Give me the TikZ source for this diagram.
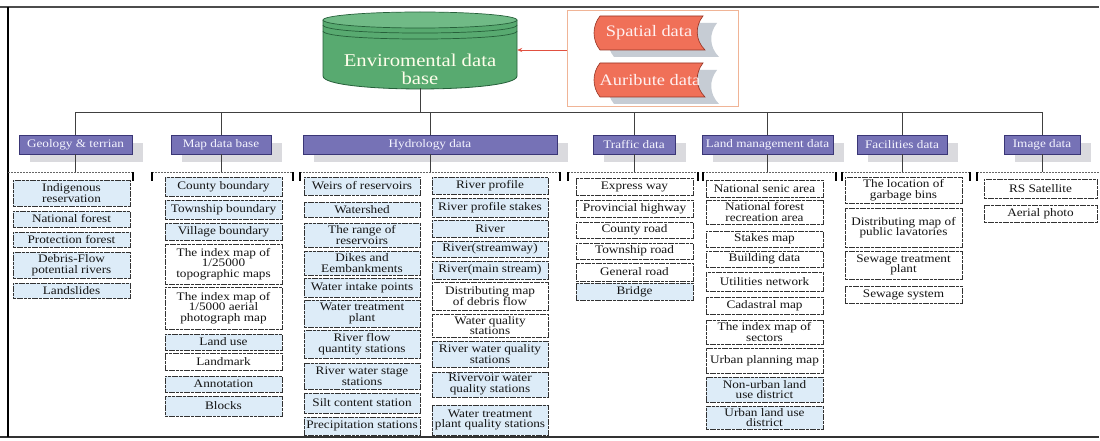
\documentclass[tikz,border=0pt]{standalone}
\usepackage{fontspec}
\setmainfont{Liberation Serif}[FakeStretch=1.15]
\usetikzlibrary{arrows.meta,shadows}

\definecolor{catfill}{RGB}{118,114,182}
\definecolor{catedge}{RGB}{58,54,118}
\definecolor{catshadow}{RGB}{218,218,222}
\definecolor{leafblue}{RGB}{221,236,248}
\definecolor{leafedge}{RGB}{50,50,50}
\definecolor{dbgreen}{RGB}{88,170,112}
\definecolor{dbtop}{RGB}{112,186,134}
\definecolor{dbedge}{RGB}{38,96,58}
\definecolor{tagred}{RGB}{240,112,88}
\definecolor{tagedge}{RGB}{150,52,36}
\definecolor{tagshadow}{RGB}{198,204,212}
\definecolor{panel}{RGB}{240,180,150}
\definecolor{linkred}{RGB}{225,80,64}

\newcommand{\leaffont}{\fontsize{11.5}{10.5}\selectfont}
% leaf box: name, fill, left, right, top, bottom, text
\newcommand{\leafbox}[7]{%
  \node[leaf,fill=#2,minimum width={#4-#3},minimum height={#6-#5}] (#1)
    at ({(#3+#4)/2},{(#5+#6)/2}) {#7};}
% category box: name, centre x, width, text
\newcommand{\catbox}[4]{%
  \node[cat,minimum width=#3] (#1) at (#2,144.5) {#4};
  \coordinate (#1-br) at (#2,172);
  \draw[link] (#1.north) |- (hub);
  \draw[link] (#1.south) -- (#1-br);}
% bracket over a column: left, right
\newcommand{\colbracket}[2]{%
  \draw[bracket] (#1,172) -- (#2,172);
  \draw[endtick] (#1,172) -- (#1,181);
  \draw[endtick] (#2,172) -- (#2,181);}
% banner shape
\newcommand{\tagshape}{%
  \path[fill=tagshadow] (614,23) -- (717,23) .. controls (709,33) and (709,47) .. (719,57)
    -- (614,57) .. controls (606,47) and (606,33) .. (614,23) -- cycle;
  \path[fill=tagred,draw=tagedge,line width=0.6pt] (600,16) -- (703,16)
    .. controls (695,26) and (695,40) .. (705,50) -- (600,50)
    .. controls (592,40) and (592,26) .. (600,16) -- cycle;}

\begin{document}
\begin{tikzpicture}[x=1pt,y=-1pt,
  link/.style={draw=black!75,line width=0.8pt},
  bracket/.style={draw=black!60,line width=0.7pt,dash pattern=on 2pt off 1pt},
  endtick/.style={draw=black,line width=1.5pt},
  leaf/.style={draw=leafedge,line width=0.75pt,dash pattern=on 3pt off 0.7pt,
    inner sep=0.5pt,align=center,font=\leaffont,text=black!92},
  cat/.style={fill=catfill,draw=catedge,line width=0.6pt,text=white!96!blue,font=\leaffont,
    minimum height=19pt,inner sep=0pt,
    general shadow={fill=catshadow,shadow xshift=11pt,shadow yshift=-8pt}},
  tagtext/.style={text=white!94!red,font=\fontsize{16}{16}\selectfont,inner sep=0pt}]
\useasboundingbox (0,0) rectangle (1100,441);
\fill[white] (0,0) rectangle (1100,441);

% frame
\draw[black!70,line width=1.3pt] (0,7) -- (1099,7);
\draw[black!80,line width=2pt] (0,437) -- (1099,437);
\draw[black,line width=2pt] (8,7) -- (8,437);

% data source panel
\node[draw=panel,line width=0.8pt,fill=white,minimum width=171pt,minimum height=96pt,
  inner sep=0pt] (src) at (652.5,58) {};
\tagshape
\node[tagtext] (spatial) at (649,33) {Spatial data};
\begin{scope}[shift={(0,47)}]
\tagshape
\end{scope}
\node[tagtext] (attr) at (650,80) {Auribute data};

% database cylinder
\node[minimum width=194pt,minimum height=76pt,inner sep=0pt] (db) at (420,50) {};
\path[fill=dbgreen] (323,20) rectangle (517,76);
\path[fill=dbgreen,draw=dbedge,line width=0.8pt] (323,20) -- (323,76)
  .. controls (323,93.3) and (517,93.3) .. (517,76) -- (517,20);
\draw[dbedge,line width=0.7pt,fill=dbtop] (420,20) ellipse[x radius=97,y radius=8];
\draw[dbedge,line width=0.7pt] (323,25) .. controls (323,35.7) and (517,35.7) .. (517,25);
\draw[dbedge,line width=0.7pt] (323,31) .. controls (323,41.7) and (517,41.7) .. (517,31);
\node[text=white!92!yellow,align=center,font=\fontsize{18}{18}\selectfont,inner sep=0pt]
  (dbtext) at (420,69) {Enviromental data\\base};

\draw[linkred,line width=0.6pt,-{Stealth[length=5pt,width=4pt]}] (src.west |- db.east) -- (db.east);

% trunk
\coordinate (hub) at (420,112);
\draw[link] (db.south) -- (hub);

% categories
\catbox{geo}{75.5}{113}{Geology \& terrian}
\catbox{map}{221}{100}{Map data base}
\catbox{hyd}{430}{254}{Hydrology data}
\catbox{tra}{634}{82}{Traffic data}
\catbox{lan}{767.5}{131}{Land management data}
\catbox{fac}{902}{90}{Facilities data}
\catbox{img}{1042}{76}{Image data}

% brackets
\draw[bracket] (8,172) -- (133,172);
\draw[endtick] (133,172) -- (133,181);
\colbracket{152}{293}
\colbracket{300}{560}
\colbracket{568}{698}
\colbracket{703}{836}
\colbracket{842}{970}
\draw[bracket] (977,172) -- (1100,172);
\draw[endtick] (977,172) -- (977,181);

% geology & terrain
\leafbox{g1}{leafblue}{13}{130}{180}{206}{Indigenous\\reservation}
\leafbox{g2}{leafblue}{13}{130}{211}{227}{National forest}
\leafbox{g3}{leafblue}{13}{130}{232}{247}{Protection forest}
\leafbox{g4}{leafblue}{13}{130}{252}{278}{Debris-Flow\\potential rivers}
\leafbox{g5}{leafblue}{13}{130}{283}{298}{Landslides}

% map data base
\leafbox{m1}{leafblue}{165}{282}{177}{196}{County boundary}
\leafbox{m2}{leafblue}{165}{282}{200}{219}{Township boundary}
\leafbox{m3}{leafblue}{165}{282}{223}{240}{Village boundary}
\leafbox{m4}{white}{165}{282}{244}{284}{The index map of\\1/25000\\topographic maps}
\leafbox{m5}{white}{165}{282}{287}{329}{The index map of\\1/5000 aerial\\photograph map}
\leafbox{m6}{leafblue}{165}{282}{334}{350}{Land use}
\leafbox{m7}{white}{165}{282}{353}{370}{Landmark}
\leafbox{m8}{leafblue}{165}{282}{376}{392}{Annotation}
\leafbox{m9}{leafblue}{165}{282}{396}{416}{Blocks}

% hydrology, left column
\leafbox{h1}{leafblue}{304}{420}{177}{195}{Weirs of reservoirs}
\leafbox{h2}{leafblue}{304}{420}{202}{217}{Watershed}
\leafbox{h3}{leafblue}{304}{420}{223}{247}{The range of\\reservoirs}
\leafbox{h4}{leafblue}{304}{420}{251}{275}{Dikes and\\Eembankments}
\leafbox{h5}{leafblue}{304}{420}{278}{297}{Water intake points}
\leafbox{h6}{leafblue}{304}{420}{300}{327}{Water treatment\\plant}
\leafbox{h7}{leafblue}{304}{420}{330}{358}{River flow\\quantity stations}
\leafbox{h8}{leafblue}{304}{420}{363}{389}{River water stage\\stations}
\leafbox{h9}{leafblue}{304}{420}{393}{413}{Silt content station}
\leafbox{h10}{leafblue}{304}{420}{417}{435}{Precipitation stations}

% hydrology, right column
\leafbox{r1}{leafblue}{432}{548}{177}{194}{River profile}
\leafbox{r2}{leafblue}{432}{548}{198}{217}{River profile stakes}
\leafbox{r3}{leafblue}{432}{548}{220}{237}{River}
\leafbox{r4}{leafblue}{432}{548}{241}{257}{River(streamway)}
\leafbox{r5}{leafblue}{432}{548}{261}{279}{River(main stream)}
\leafbox{r6}{white}{432}{548}{282}{310}{Distributing map\\of debris flow}
\leafbox{r7}{white}{432}{548}{314}{337}{Water quality\\stations}
\leafbox{r8}{leafblue}{432}{548}{341}{367}{River water quality\\stations}
\leafbox{r9}{leafblue}{432}{548}{372}{397}{Rivervoir water\\quality stations}
\leafbox{r10}{leafblue}{432}{548}{405}{435}{Water treatment\\plant quality stations}

% traffic
\leafbox{t1}{white}{576}{693}{178}{195}{Express way}
\leafbox{t2}{white}{576}{693}{200}{217}{Provincial highway}
\leafbox{t3}{white}{576}{693}{222}{238}{County road}
\leafbox{t4}{white}{576}{693}{243}{259}{Township road}
\leafbox{t5}{white}{576}{693}{263}{281}{General road}
\leafbox{t6}{leafblue}{576}{693}{283}{300}{Bridge}

% land management
\leafbox{l1}{white}{706}{823}{180}{197}{National senic area}
\leafbox{l2}{white}{706}{823}{200}{224}{National forest\\recreation area}
\leafbox{l3}{white}{706}{823}{231}{247}{Stakes map}
\leafbox{l4}{white}{706}{823}{251}{267}{Building data}
\leafbox{l5}{white}{706}{823}{272}{291}{Utilities network}
\leafbox{l6}{white}{706}{823}{297}{314}{Cadastral map}
\leafbox{l7}{white}{706}{823}{320}{344}{The index map of\\sectors}
\leafbox{l8}{white}{706}{823}{348}{373}{Urban planning map}
\leafbox{l9}{leafblue}{706}{823}{377}{402}{Non-urban land\\use district}
\leafbox{l10}{leafblue}{706}{823}{406}{429}{Urban land use\\district}

% facilities
\leafbox{f1}{white}{845}{962}{177}{203}{The location of\\garbage bins}
\leafbox{f2}{white}{845}{962}{208}{247}{Distributing map of\\public lavatories}
\leafbox{f3}{white}{845}{962}{251}{279}{Sewage treatment\\plant}
\leafbox{f4}{white}{845}{962}{286}{303}{Sewage system}

% image
\leafbox{i1}{white}{984}{1097}{179}{198}{RS Satellite}
\leafbox{i2}{white}{984}{1097}{205}{222}{Aerial photo}
\end{tikzpicture}
\end{document}
